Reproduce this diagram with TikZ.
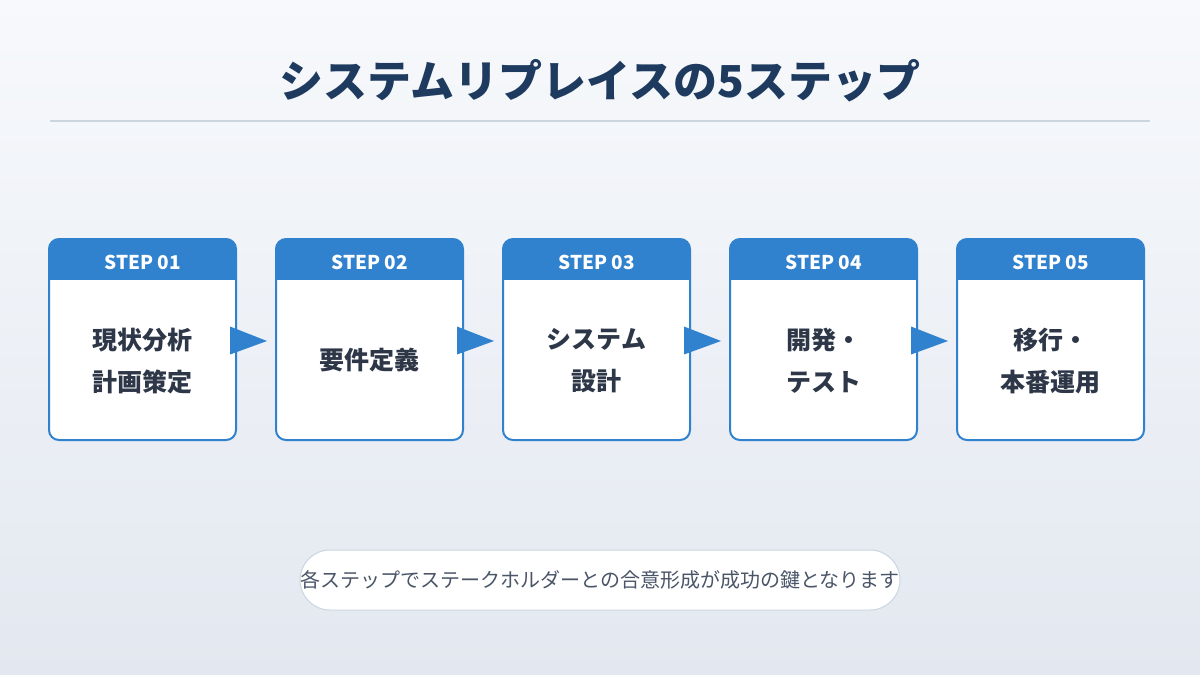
\documentclass[tikz,border=0pt]{standalone}
\usepackage{fontspec}
\setmainfont{Noto Sans CJK JP}
\usetikzlibrary{positioning}
\definecolor{stepblue}{HTML}{3182CE}
\definecolor{titlenavy}{HTML}{1E3A5F}
\definecolor{bodytext}{HTML}{2D3748}
\definecolor{notegray}{HTML}{4A5568}
\definecolor{rulegray}{HTML}{CBD5E0}
\definecolor{bgtop}{HTML}{F7F9FC}
\definecolor{bgbottom}{HTML}{E3E8F0}
\begin{document}
\begin{tikzpicture}[x=1pt, y=-1pt,
	stepbox/.style={draw=stepblue, line width=2pt, fill=white, rounded corners=10pt,
		minimum width=187pt, minimum height=201pt, inner sep=0pt,
		path picture={\fill[stepblue, sharp corners] (path picture bounding box.north west)
			rectangle ([yshift=-41pt]path picture bounding box.north east);}},
	steplabel/.style={text=white, font=\fontsize{19}{23}\selectfont\bfseries},
	steptext/.style={text=bodytext, align=center, font=\fontsize{25}{42}\selectfont\bfseries},
	steparrow/.style={fill=stepblue},
	notepill/.style={draw=rulegray, line width=1pt, fill=white, rounded corners=30pt,
		minimum width=600pt, minimum height=60pt, inner xsep=0pt, text=notegray,
		font=\fontsize{20}{24}\selectfont}]
	\useasboundingbox (0,0) rectangle (1200,675);
	\shade[top color=bgtop, bottom color=bgbottom] (0,0) rectangle (1200,675);
	% title
	\node[text=titlenavy, font=\fontsize{44}{50}\selectfont\bfseries] (title) at (600,81) {システムリプレイスの5ステップ};
	\coordinate (rulel) at (50,121);
	\coordinate (ruler) at (1150,121);
	\draw[rulegray, line width=1.5pt] (rulel) -- (ruler);
	% steps
	\node[stepbox] (s1) at (142.5,339.5) {};
	\node[stepbox] (s2) at (369.5,339.5) {};
	\node[stepbox] (s3) at (596.5,339.5) {};
	\node[stepbox] (s4) at (823.5,339.5) {};
	\node[stepbox] (s5) at (1050.5,339.5) {};
	\node[steplabel] (l1) at ([yshift=-24pt]s1.north) {STEP 01};
	\node[steplabel] (l2) at ([yshift=-24pt]s2.north) {STEP 02};
	\node[steplabel] (l3) at ([yshift=-24pt]s3.north) {STEP 03};
	\node[steplabel] (l4) at ([yshift=-24pt]s4.north) {STEP 04};
	\node[steplabel] (l5) at ([yshift=-24pt]s5.north) {STEP 05};
	\node[steptext] (t1) at ([yshift=-21.5pt]s1.center) {現状分析\\計画策定};
	\node[steptext] (t2) at ([yshift=-21pt]s2.center) {要件定義};
	\node[steptext] (t3) at ([yshift=-21.5pt]s3.center) {システム\\設計};
	\node[steptext] (t4) at ([yshift=-21.5pt]s4.center) {開発・\\テスト};
	\node[steptext] (t5) at ([yshift=-21.5pt]s5.center) {移行・\\本番運用};
	% arrows between steps
	\fill[steparrow] ([xshift=-7pt,yshift=13pt]s1.east) -- ([xshift=-8pt,yshift=-1.5pt]s2.west) -- ([xshift=-7pt,yshift=-15pt]s1.east) -- cycle;
	\fill[steparrow] ([xshift=-7pt,yshift=13pt]s2.east) -- ([xshift=-8pt,yshift=-1.5pt]s3.west) -- ([xshift=-7pt,yshift=-15pt]s2.east) -- cycle;
	\fill[steparrow] ([xshift=-7pt,yshift=13pt]s3.east) -- ([xshift=-8pt,yshift=-1.5pt]s4.west) -- ([xshift=-7pt,yshift=-15pt]s3.east) -- cycle;
	\fill[steparrow] ([xshift=-7pt,yshift=13pt]s4.east) -- ([xshift=-8pt,yshift=-1.5pt]s5.west) -- ([xshift=-7pt,yshift=-15pt]s4.east) -- cycle;
	% note
	\node[notepill] (note) at (600,580) {各ステップでステークホルダーとの合意形成が成功の鍵となります};
\end{tikzpicture}
\end{document}
